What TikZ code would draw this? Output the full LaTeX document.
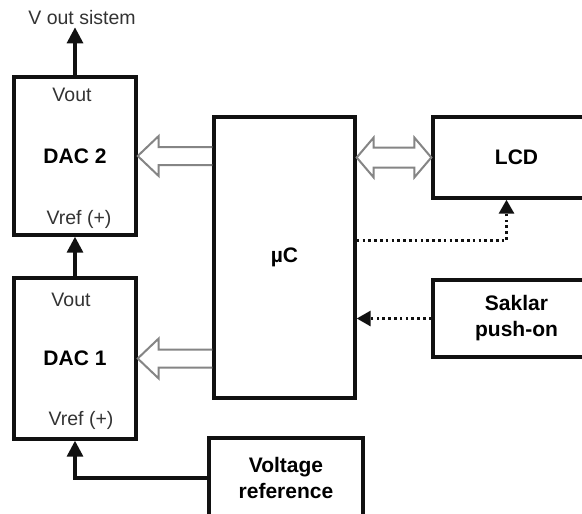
\documentclass[tikz,border=0pt]{standalone}
\usepackage{fontspec}
\setmainfont{Liberation Sans}
\usetikzlibrary{arrows.meta,calc}
\definecolor{ink}{HTML}{111111}
\definecolor{busgray}{HTML}{858585}
\definecolor{labelgray}{HTML}{333333}
\tikzset{
  block/.style={rectangle,draw=ink,line width=3.4pt,fill=white,align=center,font=\fontsize{21}{26}\selectfont\bfseries,inner sep=0pt},
  lbl/.style={font=\fontsize{19.5}{23}\selectfont,text=labelgray,inner sep=2pt},
  wire/.style={-{Triangle[length=16pt,width=16pt]},line width=3.2pt,ink},
  sig/.style={-{Triangle[length=14pt,width=15pt]},line width=3pt,ink,dash pattern=on 2.6pt off 3.2pt},
  bus/.style={draw=busgray,line width=2pt,line join=miter}
}

\begin{document}
\begin{tikzpicture}[x=1pt,y=-1pt]
        \useasboundingbox (0,0) rectangle (582,514);
        \clip (0,0) rectangle (582,514);
        \fill[white] (0,0) rectangle (582,514);
        % blocks
        \node[block,minimum width=122pt,minimum height=158pt] (dac2) at (75,156) {DAC 2};
        \node[block,minimum width=122pt,minimum height=161pt] (dac1) at (75,358.5) {DAC 1};
        \node[block,minimum width=141pt,minimum height=281pt] (uc) at (284.5,257.5) {µC};
        \node[block,minimum width=167pt,minimum height=81pt] (lcd) at (516.5,157.5) {LCD};
        \node[block,minimum width=167pt,minimum height=77pt] (sak) at (516.5,318.5) {Saklar\\push-on};
        \node[block,minimum width=154pt,minimum height=80pt] (vref) at (286,478) {Voltage\\reference};
        % pin labels
        \node[lbl] (vsys) at (82,18) {V out sistem};
        \node[lbl] (out2) at (72,95) {Vout};
        \node[lbl] (ref2) at (79,219) {Vref (+)};
        \node[lbl] (out1) at (71,300) {Vout};
        \node[lbl] (ref1) at (81,420) {Vref (+)};
        % analog wires
        \draw[wire] (dac2.north) -- (dac2.north |- vsys.south);
        \draw[wire] (dac1.north) -- (dac2.south);
        \draw[wire] (vref.west) -| (dac1.south);
        % buses
        \draw[bus] ($(uc.west |- dac2.east)+(0,-9)$) -- ($(dac2.east)+(21,-9)$) -- ($(dac2.east)+(21,-20)$) -- (dac2.east)
          -- ($(dac2.east)+(21,20)$) -- ($(dac2.east)+(21,9)$) -- ($(uc.west |- dac2.east)+(0,9)$);
        \draw[bus] ($(uc.west |- dac1.east)+(0,-9)$) -- ($(dac1.east)+(21,-9)$) -- ($(dac1.east)+(21,-20)$) -- (dac1.east)
          -- ($(dac1.east)+(21,20)$) -- ($(dac1.east)+(21,9)$) -- ($(uc.west |- dac1.east)+(0,9)$);
        \draw[bus,fill=white] (uc.east |- lcd.west) -- ++(17,-20) -- ++(0,10) -- ($(lcd.west)+(-17,-10)$) -- ++(0,-10)
          -- (lcd.west) -- ++(-17,20) -- ++(0,-10) -- ($(uc.east |- lcd.west)+(17,10)$) -- ++(0,10) -- cycle;
        % control lines
        \draw[sig] ($(uc.east)+(0,-17)$) -| ($(lcd.south)+(-10,0)$);
        \draw[sig] (sak.west) -- (uc.east |- sak.west);
      \end{tikzpicture}
\end{document}
